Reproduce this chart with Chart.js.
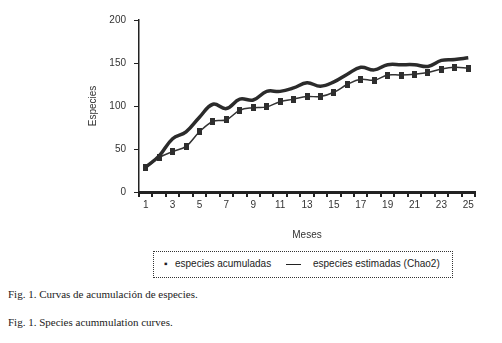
<!DOCTYPE html>
<html>
<head>
<meta charset="utf-8">
<script src="https://cdn.jsdelivr.net/npm/chart.js@4.4.1/dist/chart.umd.min.js"></script>
<style>
  body { margin: 0; background: #fff; }
  #wrap { position: relative; width: 502px; height: 343px; }
  #chartBox { position: absolute; left: 0; top: 0; width: 502px; height: 245px; }
  .legend {
    position: absolute; left: 153px; top: 251px; width: 298px; height: 25px;
    border: 1px dotted #333; font: 10px "Liberation Sans", sans-serif; color: #222;
  }
  .legend span { position: absolute; top: 6px; white-space: nowrap; }
  .cap { position: absolute; left: 8px; font: 11px "Liberation Serif", serif; color: #222; white-space: nowrap; }
</style>
</head>
<body>
<div id="wrap">
  <div id="chartBox"><canvas id="chart"></canvas></div>
  <div class="legend">
    <span style="left:10px">&#9642;</span>
    <span style="left:21px">especies acumuladas</span>
    <span style="left:132px;top:12px;width:15px;height:0;border-top:1px solid #222"></span>
    <span style="left:159px">especies estimadas (Chao2)</span>
  </div>
  <div class="cap" style="top:288px">Fig. 1. Curvas de acumulación de especies.</div>
  <div class="cap" style="top:316px">Fig. 1. Species acummulation curves.</div>
</div>
<script>
// --- DATOS ---
const meses = ['1','2','3','4','5','6','7','8','9','10','11','12','13','14','15','16','17','18','19','20','21','22','23','24','25'];
const especiesAcumuladas = [28, 40, 47, 53, 70, 82, 84, 95, 98, 99, 105, 108, 111, 111, 116, 125, 131, 130, 136, 136, 137, 139, 143, 145, 144];
const especiesEstimadas = [29, 42, 62, 70, 87, 102, 97, 108, 107, 117, 117, 121, 127, 123, 128, 137, 145, 142, 148, 148, 148, 146, 153, 154, 156];
const yTicks = [0, 50, 100, 150, 200];

// marcador: pequeño rectángulo vertical
const marca = document.createElement('canvas');
marca.width = 5; marca.height = 7;
const mctx = marca.getContext('2d');
mctx.fillStyle = '#2e2e2e';
mctx.fillRect(0, 0, 5, 7);

const ctx = document.getElementById('chart').getContext('2d');

new Chart(ctx, {
  type: 'line',
  data: {
    labels: meses,
    datasets: [
      {
        label: 'especies estimadas (Chao2)',
        data: especiesEstimadas,
        borderColor: '#2b2b2b',
        borderWidth: 3.5,
        pointRadius: 0,
        tension: 0.4
      },
      {
        label: 'especies acumuladas',
        data: especiesAcumuladas,
        borderColor: '#333',
        backgroundColor: '#333',
        borderWidth: 1.5,
        pointStyle: marca,
        pointRadius: 4,
        tension: 0.4
      }
    ]
  },
  options: {
    responsive: true,
    maintainAspectRatio: false,
    animation: false,
    layout: { padding: { left: 83, right: 27, top: 20, bottom: 0 } },
    plugins: { legend: { display: false }, tooltip: { enabled: false } },
    scales: {
      x: {
        offset: true,
        grid: { offset: true, drawOnChartArea: false, drawTicks: true, tickLength: 5, color: '#222', lineWidth: 2 },
        border: { color: '#222', width: 3 },
        ticks: {
          autoSkip: false, maxRotation: 0, padding: 2, color: '#333',
          font: { family: 'Liberation Sans', size: 10 },
          callback: (v, i) => (i % 2 === 0 ? meses[i] : '')
        },
        title: { display: true, text: 'Meses', color: '#333', font: { family: 'Liberation Sans', size: 10 }, padding: { top: 8 } },
        afterFit: s => { s.height = 53; }
      },
      y: {
        min: 0, max: 200,
        afterBuildTicks: s => { s.ticks = yTicks.map(v => ({ value: v })); },
        grid: { drawOnChartArea: false, drawTicks: true, tickLength: 5, color: '#222' },
        border: { color: '#222', width: 1.5 },
        ticks: { padding: 8, color: '#333', font: { family: 'Liberation Sans', size: 10 } },
        title: { display: true, text: 'Especies', color: '#333', font: { family: 'Liberation Sans', size: 10 } },
        afterFit: s => { s.width = 56; }
      }
    }
  }
});
</script>
</body>
</html>
